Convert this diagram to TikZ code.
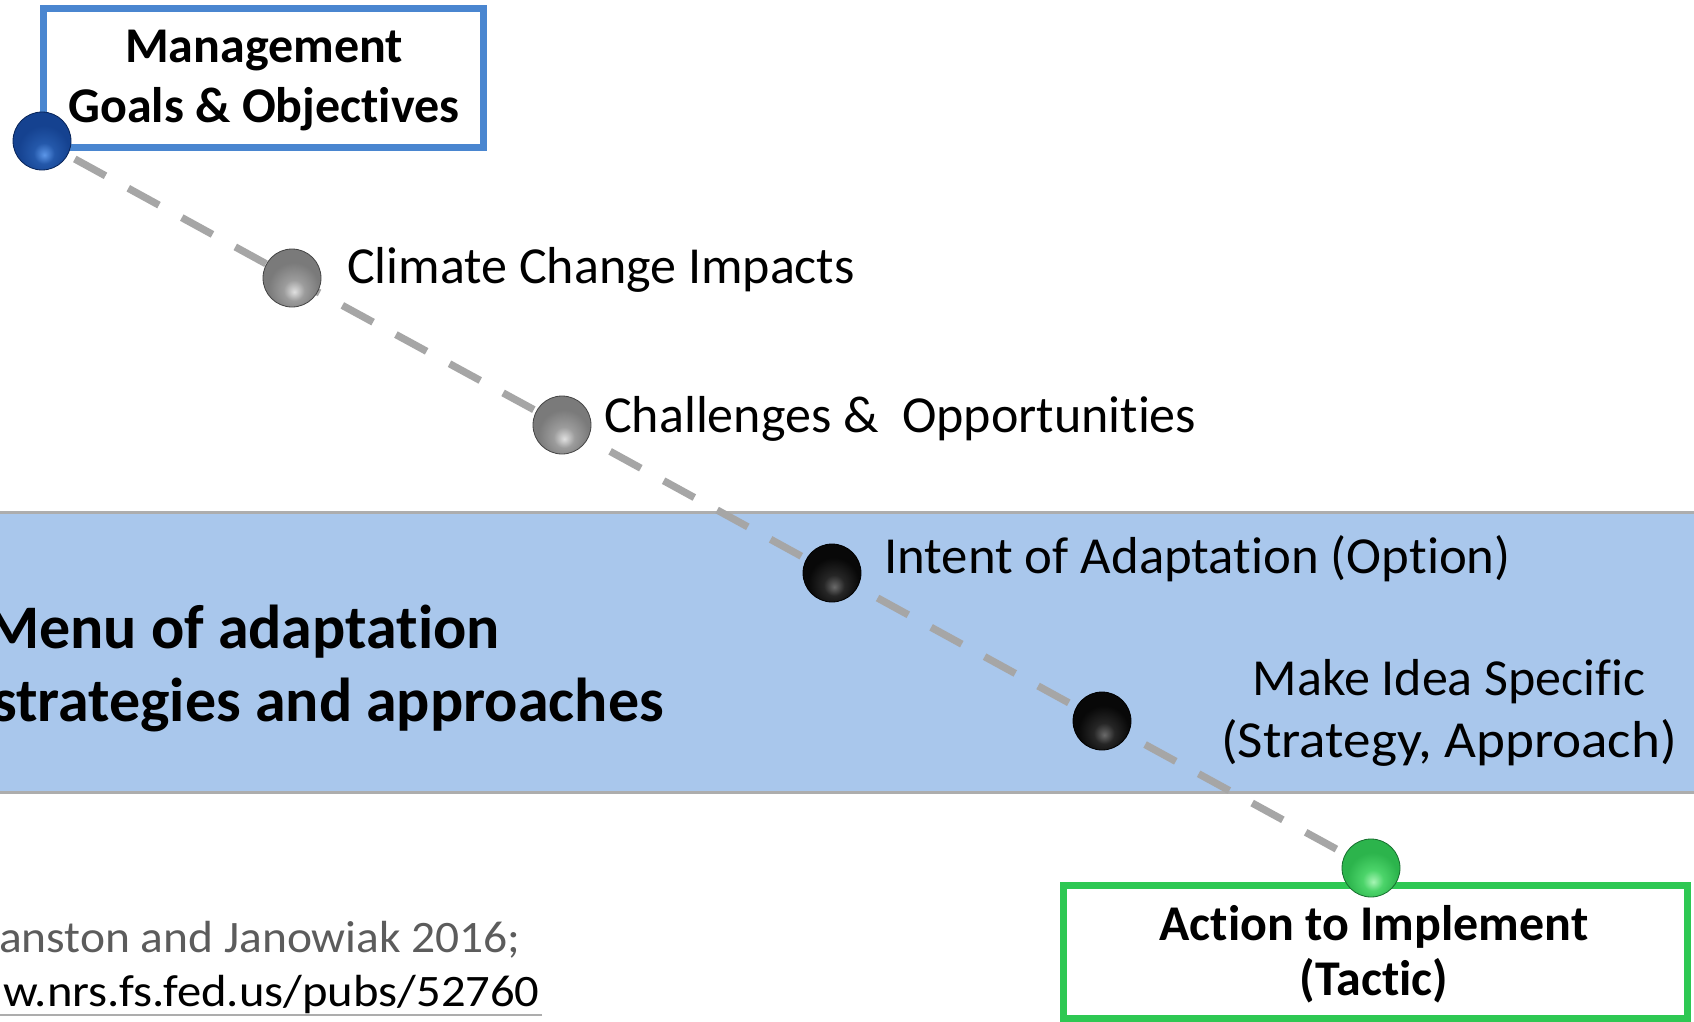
\documentclass[tikz,border=0pt]{standalone}
\usepackage{fontspec}
\setmainfont{Carlito}[Ligatures=NoCommon]
\definecolor{bandblue}{HTML}{A9C7EC}
\definecolor{bandline}{HTML}{ADADAD}
\definecolor{mgmtblue}{HTML}{4A86D0}
\definecolor{actgreen}{HTML}{2EC853}
\definecolor{dashgray}{HTML}{A6A6A6}
\definecolor{citegray}{HTML}{5C5C5C}
\definecolor{blueHL}{HTML}{5C96E8}
\definecolor{blueMid}{HTML}{2458AA}
\definecolor{blueBase}{HTML}{154290}
\definecolor{blueDark}{HTML}{082458}
\definecolor{grayHL}{HTML}{E0E0E0}
\definecolor{grayMid}{HTML}{9C9C9C}
\definecolor{grayBase}{HTML}{7A7A7A}
\definecolor{grayDark}{HTML}{444444}
\definecolor{blackHL}{HTML}{6A6A6A}
\definecolor{blackMid}{HTML}{262626}
\definecolor{blackBase}{HTML}{080808}
\definecolor{blackDark}{HTML}{000000}
\definecolor{greenHL}{HTML}{A6F5B4}
\definecolor{greenMid}{HTML}{4CD46A}
\definecolor{greenBase}{HTML}{2CB44C}
\definecolor{greenDark}{HTML}{176E2E}
\pgfdeclareradialshading{ballblue}{\pgfpoint{2bp}{-12bp}}{color(0bp)=(blueHL); color(9bp)=(blueMid); color(22bp)=(blueBase); color(36bp)=(blueBase); color(47bp)=(blueDark); color(80bp)=(blueDark)}
\pgfdeclareradialshading{ballgray}{\pgfpoint{2bp}{-12bp}}{color(0bp)=(grayHL); color(9bp)=(grayMid); color(22bp)=(grayBase); color(36bp)=(grayBase); color(47bp)=(grayDark); color(80bp)=(grayDark)}
\pgfdeclareradialshading{ballblack}{\pgfpoint{2bp}{-12bp}}{color(0bp)=(blackHL); color(9bp)=(blackMid); color(22bp)=(blackBase); color(36bp)=(blackBase); color(47bp)=(blackDark); color(80bp)=(blackDark)}
\pgfdeclareradialshading{ballgreen}{\pgfpoint{2bp}{-12bp}}{color(0bp)=(greenHL); color(9bp)=(greenMid); color(22bp)=(greenBase); color(36bp)=(greenBase); color(47bp)=(greenDark); color(80bp)=(greenDark)}
\pgfdeclarelayer{bandlayer}
\pgfdeclarelayer{linelayer}
\pgfsetlayers{bandlayer,linelayer,main}
\tikzset{
  dot/.style={circle, minimum size=58pt, inner sep=0pt, draw=#1Dark, line width=0.8pt, shading=ball#1},
  lbl/.style={inner sep=0pt, font=\fontsize{52}{62}\selectfont},
  blbl/.style={inner sep=0pt, font=\fontsize{50}{60}\selectfont\bfseries},
  menulbl/.style={inner sep=0pt, font=\fontsize{62}{74}\selectfont\bfseries},
  citelbl/.style={inner sep=0pt, font=\fontsize{45}{50}\selectfont},
  framebox/.style={rectangle, inner sep=0pt, line width=#1, fill=white},
  trail/.style={dashgray, line width=7.3pt, dash pattern=on 35pt off 26pt, dash phase=23.6pt}
}
\begin{document}
\begin{tikzpicture}[x=1pt, y=-1pt]
\useasboundingbox (0,0) rectangle (1694,1022);
% band
\begin{pgfonlayer}{bandlayer}
\fill[white] (0,0) rectangle (1694,1022);
\node[rectangle, inner sep=0pt, fill=bandblue, minimum width=1694pt, minimum height=279pt] (band) at (847,652.5) {};
\draw[bandline, line width=3pt] (band.north west) -- (band.north east);
\draw[bandline, line width=3pt] (band.south west) -- (band.south east);
\end{pgfonlayer}
% boxes
\node[framebox=7pt, draw=mgmtblue, minimum width=440pt, minimum height=139pt] (mgmtbox) at (263.5,78) {};
\node[framebox=6.7pt, draw=actgreen, minimum width=624pt, minimum height=133pt] (actbox) at (1375.5,952) {};
% dots
\node[dot=blue] (pgoal) at (42,141) {};
\node[dot=gray] (pclim) at (292,278) {};
\node[dot=gray] (pchal) at (562,425) {};
\node[dot=black] (pint) at (832,573) {};
\node[dot=black] (pmake) at (1102,721) {};
\node[dot=green] (pact) at (1371,868) {};
\begin{pgfonlayer}{linelayer}
\draw[trail] (pgoal.center) -- (pclim.center) -- (pchal.center) -- (pint.center) -- (pmake.center) -- (pact.center);
\end{pgfonlayer}
% texts
\node[blbl, anchor=base] (tmg1) at (264,63) {Management};
\node[blbl, anchor=base] (tmg2) at (264,123) {Goals \& Objectives};
\node[lbl, anchor=base west] (tclim) at (347,283) {Climate Change Impacts};
\node[lbl, anchor=base west] (tchal) at (604,432) {Challenges \&\ \ Opportunities};
\node[lbl, anchor=base west] (tint) at (884,573) {\scalebox{1.015}[1]{Intent of Adaptation (Option)}};
\node[lbl, anchor=base] (tmk1) at (1449,695) {Make Idea Specific};
\node[lbl, anchor=base] (tmk2) at (1449,757) {\scalebox{1.06}[1]{(Strategy, Approach)}};
\node[blbl, anchor=base] (tac1) at (1374,940) {Action to Implement};
\node[blbl, anchor=base] (tac2) at (1374,995) {(Tactic)};
\node[menulbl, anchor=base east] (tmenu1) at (500,648) {Menu of adaptation};
\node[menulbl, anchor=base east] (tmenu2) at (664,721) {strategies and approaches};
\node[citelbl, anchor=base east, text=citegray] (tcite) at (521,952) {\scalebox{1.055}[1]{anston and Janowiak 2016;}};
\node[citelbl, anchor=base east] (turl) at (540,1006) {\scalebox{1.08}[1]{w.nrs.fs.fed.us/pubs/52760}};
\draw[bandline, line width=1.5pt] (turl.base east |- 0,1015) ++(2,0) -- (0,1015);
\end{tikzpicture}
\end{document}
